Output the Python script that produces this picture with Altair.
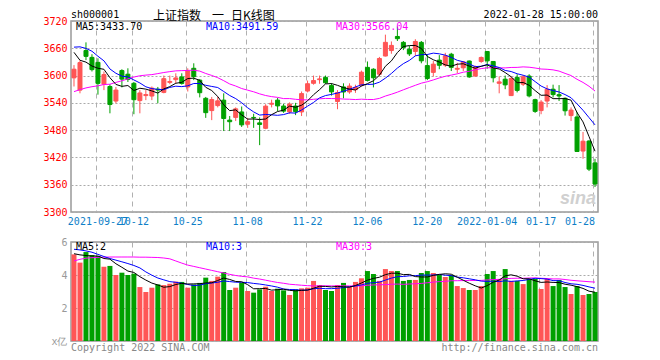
import json
import altair as alt
import pandas as pd
import numpy as np

# ---------------- data ----------------
dates = [
    "2021-09-17", "2021-09-22", "2021-09-23", "2021-09-24", "2021-09-27", "2021-09-28", "2021-09-29", "2021-09-30",
    "2021-10-08", "2021-10-11", "2021-10-12", "2021-10-13", "2021-10-14", "2021-10-15", "2021-10-18", "2021-10-19",
    "2021-10-20", "2021-10-21", "2021-10-22", "2021-10-25", "2021-10-26", "2021-10-27", "2021-10-28", "2021-10-29",
    "2021-11-01", "2021-11-02", "2021-11-03", "2021-11-04", "2021-11-05", "2021-11-08", "2021-11-09", "2021-11-10",
    "2021-11-11", "2021-11-12", "2021-11-15", "2021-11-16", "2021-11-17", "2021-11-18", "2021-11-19", "2021-11-22",
    "2021-11-23", "2021-11-24", "2021-11-25", "2021-11-26", "2021-11-29", "2021-11-30", "2021-12-01", "2021-12-02",
    "2021-12-03", "2021-12-06", "2021-12-07", "2021-12-08", "2021-12-09", "2021-12-10", "2021-12-13", "2021-12-14",
    "2021-12-15", "2021-12-16", "2021-12-17", "2021-12-20", "2021-12-21", "2021-12-22", "2021-12-23", "2021-12-24",
    "2021-12-27", "2021-12-28", "2021-12-29", "2021-12-30", "2021-12-31", "2022-01-04", "2022-01-05", "2022-01-06",
    "2022-01-07", "2022-01-10", "2022-01-11", "2022-01-12", "2022-01-13", "2022-01-14", "2022-01-17", "2022-01-18",
    "2022-01-19", "2022-01-20", "2022-01-21", "2022-01-24", "2022-01-25", "2022-01-26", "2022-01-27", "2022-01-28",
]

opens = [3595, 3568, 3655, 3640, 3629, 3581, 3576, 3544, 3611, 3603,
         3583, 3545, 3556, 3555, 3570, 3563, 3585, 3591, 3597, 3575,
         3616, 3590, 3550, 3523, 3534, 3546, 3502, 3508, 3520, 3493,
         3508, 3496, 3484, 3537, 3546, 3533, 3520, 3533, 3520, 3566,
         3583, 3591, 3596, 3578, 3543, 3575, 3564, 3569, 3579, 3618,
         3614, 3603, 3643, 3655, 3686, 3673, 3658, 3653, 3673, 3622,
         3607, 3634, 3623, 3647, 3614, 3617, 3632, 3599, 3631, 3653,
         3631, 3583, 3592, 3556, 3596, 3581, 3599, 3547, 3523, 3544,
         3570, 3558, 3550, 3512, 3509, 3434, 3456, 3408]

highs = [3623, 3634, 3673, 3647, 3638, 3609, 3581, 3575, 3614, 3616,
         3586, 3568, 3568, 3576, 3575, 3600, 3600, 3605, 3605, 3616,
         3627, 3592, 3553, 3553, 3553, 3561, 3511, 3530, 3532, 3507,
         3516, 3508, 3537, 3547, 3551, 3538, 3541, 3540, 3565, 3589,
         3600, 3600, 3600, 3583, 3568, 3583, 3583, 3580, 3611, 3631,
         3616, 3641, 3690, 3675, 3708, 3676, 3665, 3680, 3676, 3647,
         3632, 3645, 3650, 3650, 3628, 3632, 3633, 3622, 3642, 3654,
         3632, 3598, 3600, 3598, 3603, 3601, 3603, 3549, 3546, 3579,
         3580, 3579, 3552, 3530, 3520, 3476, 3458, 3417]

lows = [3576, 3561, 3634, 3609, 3558, 3568, 3517, 3539, 3574, 3586,
        3515, 3517, 3546, 3546, 3539, 3561, 3581, 3583, 3580, 3565,
        3590, 3552, 3507, 3502, 3530, 3478, 3478, 3500, 3487, 3485,
        3485, 3447, 3482, 3530, 3522, 3518, 3516, 3513, 3511, 3563,
        3580, 3582, 3582, 3556, 3526, 3550, 3560, 3562, 3576, 3587,
        3574, 3598, 3642, 3648, 3676, 3656, 3643, 3643, 3627, 3590,
        3598, 3614, 3619, 3610, 3605, 3610, 3595, 3597, 3628, 3615,
        3585, 3561, 3570, 3555, 3563, 3577, 3552, 3518, 3515, 3530,
        3552, 3544, 3512, 3500, 3432, 3417, 3390, 3355]

closes = [3613.97, 3628.49, 3642.22, 3613.07, 3582.83, 3602.22, 3536.29, 3568.17, 3592.17, 3591.71,
          3546.94, 3561.76, 3558.28, 3572.37, 3568.14, 3593.15, 3587.00, 3594.78, 3582.60, 3609.86,
          3597.64, 3562.31, 3518.42, 3547.34, 3544.48, 3505.63, 3498.54, 3526.87, 3491.57, 3498.63,
          3507.00, 3492.46, 3532.79, 3539.10, 3533.30, 3521.79, 3537.37, 3520.71, 3560.37, 3582.08,
          3589.09, 3592.70, 3584.18, 3564.09, 3562.70, 3563.89, 3576.89, 3573.84, 3607.43, 3589.31,
          3595.09, 3637.57, 3673.04, 3666.35, 3681.08, 3661.53, 3647.63, 3675.02, 3632.36, 3593.60,
          3625.13, 3622.62, 3643.34, 3618.05, 3615.97, 3630.11, 3597.00, 3619.19, 3639.78, 3632.33,
          3595.18, 3586.08, 3579.54, 3593.52, 3567.44, 3597.43, 3555.26, 3521.26, 3541.67, 3569.91,
          3558.18, 3555.06, 3522.57, 3524.11, 3433.06, 3455.67, 3394.25, 3361.44]

# closes of the 29 sessions before the first candle (needed for the moving averages)
prior_closes = [3494.63, 3529.93, 3532.62, 3524.74, 3516.30, 3517.34, 3446.98, 3485.29, 3465.55, 3427.33,
                3477.13, 3514.47, 3540.38, 3501.66, 3522.16, 3528.15, 3543.94, 3567.10, 3597.04, 3581.73,
                3621.86, 3676.59, 3675.19, 3693.13, 3703.11, 3715.37, 3662.60, 3656.22, 3607.09]

# volume, x 100 million lots
volumes = [5.25, 4.75, 5.39, 5.21, 5.15, 4.50, 4.55, 4.00, 4.14, 4.00,
           4.08, 3.27, 2.97, 3.23, 3.43, 3.39, 3.47, 3.60, 3.58, 3.23,
           3.43, 3.52, 3.84, 3.64, 3.90, 4.18, 3.09, 3.23, 3.54, 3.03,
           2.93, 3.13, 3.29, 3.03, 3.17, 3.07, 2.79, 3.13, 3.19, 3.23,
           3.64, 3.39, 3.09, 3.03, 3.39, 3.52, 3.29, 3.58, 3.80, 4.24,
           4.06, 3.64, 4.36, 4.24, 4.24, 3.64, 3.70, 3.70, 4.12, 4.24,
           4.12, 4.00, 3.88, 4.00, 3.33, 3.21, 3.09, 3.09, 3.33, 4.06,
           4.24, 3.76, 4.36, 3.64, 3.64, 3.45, 3.76, 3.76, 3.15, 3.76,
           3.33, 3.70, 3.27, 2.85, 3.33, 2.79, 2.85, 2.97]

# volume moving averages at the left edge (their windows start before the first bar)
vol_ma5_head = [5.29, 5.22, 5.18, 5.15]
vol_ma10_head = [5.56, 5.52, 5.46, 5.38, 5.25, 5.12, 5.00, 4.90, 4.80]
vol_ma30_head = [4.85, 4.95, 5.02, 5.05, 5.07, 5.08, 5.09, 5.09, 5.09, 5.09,
                 5.09, 5.08, 5.08, 5.07, 5.06, 5.03, 4.98, 4.85, 4.72, 4.60,
                 4.52, 4.44, 4.36, 4.28, 4.20, 4.12, 4.04, 3.97, 3.92]

tick_dates = ["2021-09-27", "2021-10-12", "2021-10-25", "2021-11-08", "2021-11-22",
              "2021-12-06", "2021-12-20", "2022-01-04", "2022-01-17", "2022-01-28"]
tick_labels = ["2021-09-27", "10-12", "10-25", "11-08", "11-22",
               "12-06", "12-20", "2022-01-04", "01-17", "01-28"]
price_ticks = [3300, 3360, 3420, 3480, 3540, 3600, 3660, 3720]
vol_ticks = [0, 2, 4, 6]

# ---------------- table ----------------
df = pd.DataFrame({"date": dates, "open": opens, "high": highs, "low": lows,
                   "close": closes, "vol": volumes})
allc = pd.Series(prior_closes + closes)
n0 = len(prior_closes)
for w in (5, 10, 30):
    df[f"ma{w}"] = allc.rolling(w).mean().iloc[n0:].values
vs = pd.Series(volumes)
for w, head in ((5, vol_ma5_head), (10, vol_ma10_head), (30, vol_ma30_head)):
    m = vs.rolling(w).mean().values
    m[:len(head)] = head
    df[f"vma{w}"] = m
df["dir"] = np.where(df["close"] >= df["open"], "up", "down")

RED, GREEN = "#ff5555", "#00a000"
MONO = "DejaVu Sans Mono"
CJK = "Noto Sans CJK SC"
cscale = alt.Scale(domain=["up", "down"], range=[RED, GREEN])
W, H1, H2 = 527, 191, 99

label_expr = f"{json.dumps(tick_labels)}[indexof({json.dumps(tick_dates)}, datum.value)]"
last_tick = tick_dates[-1]
xscale = alt.Scale(paddingInner=0, paddingOuter=0)

def x_axis(show_labels):
    return alt.Axis(values=tick_dates, labelExpr=label_expr, labels=show_labels,
                    labelAngle=0, ticks=False, domain=False, grid=True,
                    gridDash=[5, 4], gridColor="#b0b0b0", gridWidth=1,
                    labelColor="#0f7fc8", labelFont=MONO, labelFontSize=10,
                    labelPadding=9, labelBaseline="middle",
                    labelAlign={"condition": {"test": f"datum.value == '{last_tick}'",
                                              "value": "right"},
                                "value": "center"},
                    labelOverlap=False, labelFlush=False, labelBound=False,
                    bandPosition=0.25, title=None)

one = pd.DataFrame({"k": [0]})

def txt(s, x, y, color, size=10, align="left", font=MONO, **kw):
    return alt.Chart(one).mark_text(text=s, align=align, baseline="middle", color=color,
                                    fontSize=size, font=font, **kw).encode(
        x=alt.value(x), y=alt.value(y))

# ---------------- price panel ----------------
pbase = alt.Chart(df).encode(
    x=alt.X("date:O", sort=dates, scale=xscale, axis=x_axis(True)))
pys = alt.Scale(domain=[3300, 3720], nice=False, zero=False)
pyaxis = alt.Axis(values=price_ticks, format="d", labelColor="#ff0000", labelFont=MONO,
                  labelFontSize=10, ticks=False, domain=False, grid=True, gridDash=[2, 2],
                  gridColor="#aaaaaa", labelPadding=4, labelFlush=False, labelOverlap=False,
                  labelBound=False, minExtent=40, maxExtent=40, title=None)

def py(field):
    return alt.Y(f"{field}:Q", scale=pys, axis=pyaxis)

wick = pbase.mark_rule(strokeWidth=1).encode(
    y=py("low"), y2="high:Q",
    color=alt.Color("dir:N", scale=cscale, legend=None))
body = pbase.mark_bar(size=4, strokeWidth=1).encode(
    y=py("open"), y2="close:Q",
    color=alt.Color("dir:N", scale=cscale, legend=None),
    stroke=alt.Stroke("dir:N", scale=cscale, legend=None))
ma5 = pbase.mark_line(color="#000000", strokeWidth=1).encode(y=py("ma5"))
ma10 = pbase.mark_line(color="#0000ff", strokeWidth=1).encode(y=py("ma10"))
ma30 = pbase.mark_line(color="#ff00ff", strokeWidth=1).encode(y=py("ma30"))

top = alt.layer(
    wick, body, ma30, ma10, ma5,
    txt("sina", W - 2, 178, "#d0d0d0", size=18, align="right", font="Liberation Sans",
        fontStyle="italic", fontWeight="bold"),
    txt("MA5:3433.70", 5, 6, "#000000"),
    txt("MA10:3491.59", 135, 6, "#0000ff"),
    txt("MA30:3566.04", 265, 6, "#ff00ff"),
    txt("sh000001", 0, -6, "#000000"),
    txt("上证指数", 82, -5, "#000000", size=12, font=CJK),
    txt("一", 141, -5, "#000000", size=12, font=CJK),
    txt("日K线图", 160, -5, "#000000", size=12, font=CJK),
    txt("2022-01-28 15:00:00", W, -6, "#000000", align="right"),
).properties(width=W, height=H1)

# ---------------- volume panel ----------------
vbase = alt.Chart(df).encode(
    x=alt.X("date:O", sort=dates, scale=xscale, axis=x_axis(False)))
vys = alt.Scale(domain=[0, 6], nice=False, zero=True)
vyaxis = alt.Axis(values=vol_ticks, labelExpr="datum.value == 0 ? 'x亿' : datum.label",
                  labelColor="#999999", labelFont=MONO, labelFontSize=10,
                  ticks=False, domain=False, grid=True, gridDash=[2, 2], gridColor="#aaaaaa",
                  labelPadding=4, labelFlush=False, labelOverlap=False, labelBound=False,
                  minExtent=40, maxExtent=40, title=None)

def vy(field):
    return alt.Y(f"{field}:Q", scale=vys, axis=vyaxis)

vbars = vbase.mark_bar(size=5).encode(
    y=vy("vol"), color=alt.Color("dir:N", scale=cscale, legend=None))
vma5 = vbase.mark_line(color="#000000", strokeWidth=1).encode(y=vy("vma5"))
vma10 = vbase.mark_line(color="#0000ff", strokeWidth=1).encode(y=vy("vma10"))
vma30 = vbase.mark_line(color="#ff00ff", strokeWidth=1).encode(y=vy("vma30"))

bottom = alt.layer(
    vbars, vma30, vma10, vma5,
    txt("MA5:2", 5, 5, "#000000"),
    txt("MA10:3", 135, 5, "#0000ff"),
    txt("MA30:3", 265, 5, "#ff00ff"),
    txt("Copyright 2022 SINA.COM", 0, 106, "#888888"),
    txt("http://finance.sina.com.cn", W, 106, "#888888", align="right"),
).properties(width=W, height=H2)

chart = alt.vconcat(top, bottom, spacing=30, bounds="flush").properties(
    padding={"left": 22, "top": 1, "right": 5, "bottom": 2}
).configure_view(stroke="#999999", strokeWidth=1.5)

chart.save("out.html", embed_options={"renderer": "svg", "actions": False})
